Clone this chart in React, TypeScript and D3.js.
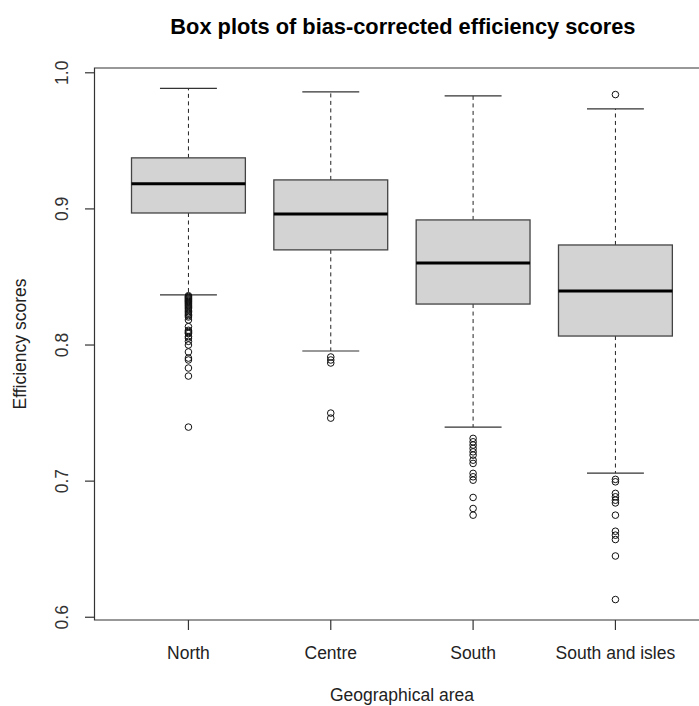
import React from "react";
import * as d3 from "d3";

// Geographical areas on the x axis
const categories = ["North", "Centre", "South", "South and isles"];

// Five-number summaries per area (whisker ends, quartiles, median)
const whiskerLow = [0.8368, 0.7956, 0.7397, 0.7059];
const q1 = [0.8970, 0.8699, 0.8301, 0.8066];
const median = [0.9184, 0.8963, 0.8603, 0.8397];
const q3 = [0.9375, 0.9213, 0.8919, 0.8735];
const whiskerHigh = [0.9885, 0.9860, 0.9830, 0.9735];

// Points beyond the whiskers
const outliersNorth = [
  0.8362, 0.8356, 0.835, 0.8344, 0.8338, 0.8332, 0.8326, 0.832, 0.8314, 0.8307,
  0.83, 0.8292, 0.8284, 0.8275, 0.8266, 0.8256, 0.8246, 0.8236, 0.8226, 0.8216,
  0.8206, 0.8184, 0.8135, 0.8108, 0.8099, 0.8091, 0.8084, 0.8062, 0.8051, 0.8027,
  0.8, 0.7949, 0.7904, 0.789, 0.7831, 0.7772, 0.7397,
];
const outliersCentre = [0.7912, 0.789, 0.7868, 0.75, 0.7463];
const outliersSouth = [
  0.7314, 0.7289, 0.7265, 0.724, 0.7215, 0.7191, 0.7154, 0.713, 0.7057, 0.7032,
  0.7007, 0.688, 0.6799, 0.675,
];
const outliersSouthIsles = [
  0.984, 0.7013, 0.6995, 0.691, 0.6885, 0.686, 0.684, 0.675, 0.6632, 0.6603,
  0.6571, 0.645, 0.613,
];
const outliers = [outliersNorth, outliersCentre, outliersSouth, outliersSouthIsles];

const yTicks = [0.6, 0.7, 0.8, 0.9, 1.0];

const W = 699;
const H = 706;
const plot = { left: 94.5, top: 68, bottom: 620 };
const fontFamily = "'Liberation Sans', Arial, sans-serif";

export default function App() {
  const allValues = [...whiskerLow, ...whiskerHigh, ...outliers.flat()];
  const [lo, hi] = d3.extent(allValues) as [number, number];
  const pad = (hi - lo) * 0.04;

  const y = d3.scaleLinear().domain([lo - pad, hi + pad]).range([plot.bottom, plot.top]);
  // positions 1..n with R-style padding of the [0.5, n + 0.5] range
  const n = categories.length;
  const xr = n; // span of [0.5, n + 0.5]
  const x = d3
    .scaleLinear()
    .domain([0.5 - xr * 0.04, n + 0.5 + xr * 0.04])
    .range([plot.left, plot.left + 142.33 * (xr * 1.08)]);
  const plotRight = x(n + 0.5 + xr * 0.04);
  const boxHalf = (x(1) - x(0)) * 0.4;
  const capHalf = boxHalf * 0.5;

  return (
    <svg
      width={W}
      height={H}
      style={{ position: "absolute", left: 0, top: 0, background: "#fff" }}
      fontFamily={fontFamily}
    >
      <text
        x={(plot.left + plotRight) / 2 + 1}
        y={34}
        textAnchor="middle"
        fontSize={21.8}
        fontWeight="bold"
        fill="#000"
      >
        Box plots of bias-corrected efficiency scores
      </text>

      {categories.map((c, i) => {
        const cx = x(i + 1);
        return (
          <g key={c}>
            {/* whiskers */}
            <line x1={cx} x2={cx} y1={y(q3[i])} y2={y(whiskerHigh[i])} stroke="#222" strokeDasharray="4,3.5" />
            <line x1={cx} x2={cx} y1={y(q1[i])} y2={y(whiskerLow[i])} stroke="#222" strokeDasharray="4,3.5" />
            <line x1={cx - capHalf} x2={cx + capHalf} y1={y(whiskerHigh[i])} y2={y(whiskerHigh[i])} stroke="#333" strokeWidth={1.2} />
            <line x1={cx - capHalf} x2={cx + capHalf} y1={y(whiskerLow[i])} y2={y(whiskerLow[i])} stroke="#333" strokeWidth={1.2} />
            {/* box */}
            <rect
              x={cx - boxHalf}
              y={y(q3[i])}
              width={boxHalf * 2}
              height={y(q1[i]) - y(q3[i])}
              fill="#d3d3d3"
              stroke="#444"
              strokeWidth={1.3}
            />
            <line x1={cx - boxHalf} x2={cx + boxHalf} y1={y(median[i])} y2={y(median[i])} stroke="#000" strokeWidth={3} />
            {/* outliers */}
            {outliers[i].map((v, j) => (
              <circle key={j} cx={cx} cy={y(v)} r={3.3} fill="none" stroke="#111" strokeWidth={1} />
            ))}
          </g>
        );
      })}

      {/* plot frame (right side runs off the page) */}
      <path
        d={`M${plotRight},${plot.top}H${plot.left}V${plot.bottom}H${plotRight}`}
        fill="none"
        stroke="#333"
        strokeWidth={1.2}
      />

      {/* y axis */}
      {yTicks.map((t) => (
        <g key={t}>
          <line x1={plot.left - 9.5} x2={plot.left} y1={y(t)} y2={y(t)} stroke="#333" strokeWidth={1.2} />
          <text
            transform={`translate(${68},${y(t)}) rotate(-90)`}
            textAnchor="middle"
            fontSize={17.5}
            fill="#333"
          >
            {d3.format(".1f")(t)}
          </text>
        </g>
      ))}

      {/* x axis */}
      {categories.map((c, i) => (
        <g key={c}>
          <line x1={x(i + 1)} x2={x(i + 1)} y1={plot.bottom} y2={plot.bottom + 10} stroke="#333" strokeWidth={1.2} />
          <text x={x(i + 1)} y={659} textAnchor="middle" fontSize={17.5} fill="#222">
            {c}
          </text>
        </g>
      ))}

      <text x={(plot.left + plotRight) / 2} y={701} textAnchor="middle" fontSize={17.5} fill="#222">
        Geographical area
      </text>
      <text
        transform={`translate(${26},${(plot.top + plot.bottom) / 2}) rotate(-90)`}
        textAnchor="middle"
        fontSize={17.5}
        fill="#222"
      >
        Efficiency scores
      </text>
    </svg>
  );
}
